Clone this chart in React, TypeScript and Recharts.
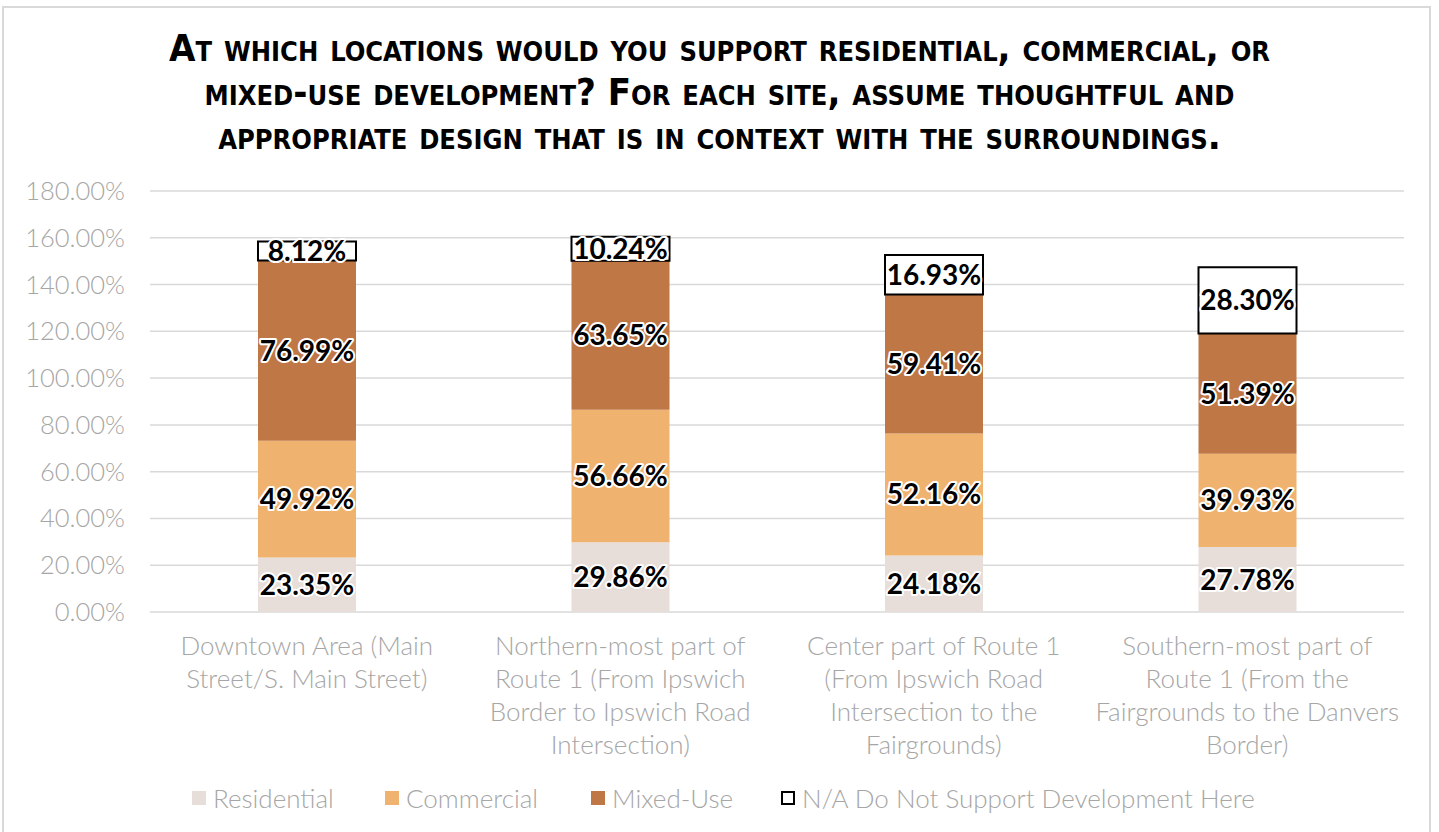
import { BarChart, Bar, XAxis, YAxis, CartesianGrid, LabelList } from 'recharts';

const categories = [
	'Downtown Area (Main Street/S. Main Street)',
	'Northern-most part of Route 1 (From Ipswich Border to Ipswich Road Intersection)',
	'Center part of Route 1 (From Ipswich Road Intersection to the Fairgrounds)',
	'Southern-most part of Route 1 (From the Fairgrounds to the Danvers Border)',
];
const categoryLines = [
	['Downtown Area (Main', 'Street/S. Main Street)'],
	['Northern-most part of', 'Route 1 (From Ipswich', 'Border to Ipswich Road', 'Intersection)'],
	['Center part of Route 1', '(From Ipswich Road', 'Intersection to the', 'Fairgrounds)'],
	['Southern-most part of', 'Route 1 (From the', 'Fairgrounds to the Danvers', 'Border)'],
];
const residential = [23.35, 29.86, 24.18, 27.78];
const commercial = [49.92, 56.66, 52.16, 39.93];
const mixedUse = [76.99, 63.65, 59.41, 51.39];
const notSupport = [8.12, 10.24, 16.93, 28.3];
const yTicks = [0, 20, 40, 60, 80, 100, 120, 140, 160, 180];
const titleLines = [
	'At which locations would you support residential, commercial, or',
	'mixed-use development? For each site, assume thoughtful and',
	'appropriate design that is in context with the surroundings.',
];

const series = [
	{ key: 'residential', name: 'Residential', color: '#e7ddd9' },
	{ key: 'commercial', name: 'Commercial', color: '#f0b36f' },
	{ key: 'mixedUse', name: 'Mixed-Use', color: '#c07746' },
	{ key: 'notSupport', name: 'N/A Do Not Support Development Here', color: '#ffffff' },
];

const data = categories.map((c, i) => ({
	name: c,
	idx: i,
	residential: residential[i],
	commercial: commercial[i],
	mixedUse: mixedUse[i],
	notSupport: notSupport[i],
}));

const GRAY = '#a6a6a6';
const FONT = 'Lato, "Open Sans", sans-serif';

function XTick({ x, y, payload }: any) {
	const lines = categoryLines[payload.index] || [];
	return (
		<g transform={`translate(${x},${y})`}>
			{lines.map((l, i) => (
				<text key={i} x={0} y={i * 33} dy={35} textAnchor="middle" fill={GRAY} fontSize={26} fontWeight={300} fontFamily={FONT}>
					{l}
				</text>
			))}
		</g>
	);
}

function ValueLabel({ x, y, width, height, value }: any) {
	const cx = x + width / 2;
	const cy = y + height / 2;
	const txt = `${Number(value).toFixed(2)}%`;
	return (
		<text
			x={cx}
			y={cy}
			dy={10}
			textAnchor="middle"
			fontFamily={FONT}
			fontWeight={700}
			fontSize={28}
			fill="#000"
			stroke="#fff"
			strokeWidth={4}
			strokeLinejoin="round"
			paintOrder="stroke"
		>
			{txt}
		</text>
	);
}

export default function App() {
	return (
		<div style={{ position: 'absolute', left: 0, top: 0, width: 1439, height: 832, overflow: 'hidden', background: '#fff', fontFamily: FONT }}>
			<div style={{ position: 'absolute', left: 2, top: 6, width: 1429, height: 840, border: '2px solid #d9d9d9', boxSizing: 'border-box' }} />
			<div
				style={{
					position: 'absolute',
					left: 0,
					top: 26,
					width: 1439,
					textAlign: 'center',
					fontFamily: '"Liberation Sans Narrow", "DejaVu Sans Condensed", sans-serif',
					fontWeight: 700,
					fontVariant: 'small-caps',
					fontSize: 38,
					lineHeight: '44px',
					color: '#000',
				}}
			>
				{titleLines.map((l, i) => (
					<div key={i}>{l}</div>
				))}
			</div>
			<div style={{ position: 'absolute', left: 0, top: 0 }}>
				<BarChart width={1439} height={832} data={data} margin={{ top: 191, right: 35, bottom: 190, left: 0 }} barSize={98}>
					<CartesianGrid vertical={false} stroke="#d9d9d9" strokeWidth={1.5} />
					<XAxis dataKey="name" axisLine={false} tickLine={false} tick={<XTick />} interval={0} height={30} />
					<YAxis
						width={150}
						domain={[0, 180]}
						ticks={yTicks}
						axisLine={false}
						tickLine={false}
						tickMargin={19}
						tickFormatter={(v: number) => `${v.toFixed(2)}%`}
						tick={{ fill: GRAY, fontSize: 25.5, fontWeight: 300, fontFamily: FONT }}
						interval={0}
					/>
					{series.map((s) => (
						<Bar
							key={s.key}
							dataKey={s.key}
							name={s.name}
							stackId="a"
							fill={s.color}
							stroke={s.key === 'notSupport' ? '#000' : 'none'}
							strokeWidth={s.key === 'notSupport' ? 2 : 0}
							isAnimationActive={false}
						>
							<LabelList dataKey={s.key} content={<ValueLabel />} />
						</Bar>
					))}
				</BarChart>
			</div>
			<div style={{ position: 'absolute', left: 0, top: 781, width: 1439, height: 34 }}>
				{series.map((s, i) => {
					const lefts = [192, 385, 591, 781];
					return (
						<div key={s.key} style={{ position: 'absolute', left: lefts[i], top: 0, display: 'flex', alignItems: 'center', height: 34 }}>
							<div
								style={{
									width: 14,
									height: 14,
									background: s.color,
									border: s.key === 'notSupport' ? '2.5px solid #000' : 'none',
									boxSizing: 'border-box',
									marginRight: 7,
								}}
							/>
							<span style={{ fontSize: 26, fontWeight: 300, color: GRAY, whiteSpace: 'nowrap' }}>{s.name}</span>
						</div>
					);
				})}
			</div>
		</div>
	);
}
